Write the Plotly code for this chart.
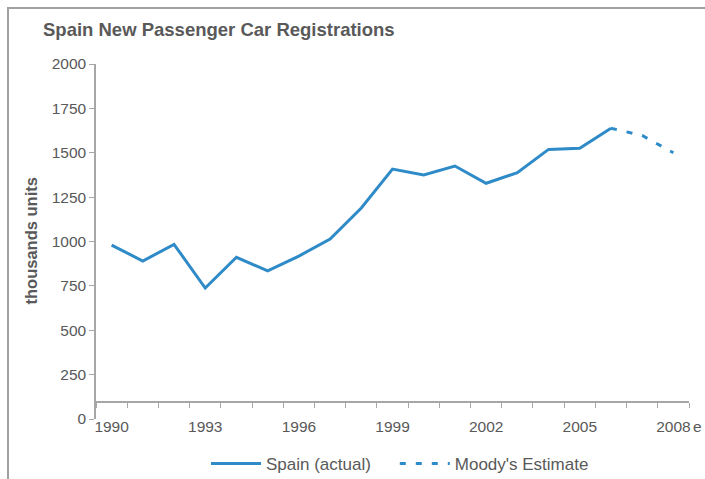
import plotly.graph_objects as go

# Spain new passenger car registrations, thousands of units
years_actual = [1990, 1991, 1992, 1993, 1994, 1995, 1996, 1997, 1998,
                1999, 2000, 2001, 2002, 2003, 2004, 2005, 2006]
spain_actual = [980, 890, 984, 738, 911, 834, 918, 1014, 1189,
                1408, 1375, 1425, 1328, 1388, 1519, 1525, 1638]

years_estimate = [2006, 2007, 2008]
moodys_estimate = [1638, 1597, 1500]

tick_years = [1990, 1993, 1996, 1999, 2002, 2005, 2008]
tick_labels = ["1990", "1993", "1996", "1999", "2002", "2005", "2008"]

blue = "rgb(46,139,200)"
grey = "#595959"
axis_grey = "#A6A6A6"
font = "Liberation Sans, Arial, sans-serif"

W, H = 705, 479
L, R, T, B = 96, 16, 64, 60
PW, PH = W - L - R, H - T - B

fig = go.Figure()
fig.add_trace(go.Scatter(x=years_actual, y=spain_actual, mode="lines",
                         name="Spain (actual)\u00a0\u00a0\u00a0\u00a0",
                         line=dict(color=blue, width=3)))
fig.add_trace(go.Scatter(x=years_estimate, y=moodys_estimate, mode="lines",
                         name="Moody's Estimate",
                         line=dict(color=blue, width=3, dash="6px,10px")))

# boundaries between the yearly categories
boundaries = [y - 0.5 for y in range(1990, 2010)]

fig.update_layout(
    width=W, height=H,
    margin=dict(l=L, r=R, t=T, b=B, autoexpand=False),
    paper_bgcolor="white", plot_bgcolor="white",
    font=dict(family=font, size=15, color=grey),
    title=dict(text="<b>Spain New Passenger Car Registrations</b>",
               xref="container", x=43 / W, xanchor="left",
               yref="container", y=1 - 30 / H, yanchor="middle",
               font=dict(size=18.5, color=grey)),
    showlegend=True,
    legend=dict(orientation="h", xref="container", x=400 / W,
                xanchor="center", yref="container", y=1 - 464 / H,
                yanchor="middle", font=dict(size=17, color=grey),
                itemwidth=50),
    xaxis=dict(range=[1989.5, 2008.5], tickvals=tick_years,
               ticktext=tick_labels, ticks="", showgrid=False,
               zeroline=False, showline=True, linecolor=axis_grey,
               linewidth=1.5, anchor="free", position=0.048,
               ticklabelstandoff=11, tickfont=dict(size=15.5),
               minor=dict(tickvals=boundaries, ticks="outside", ticklen=5,
                          tickcolor=axis_grey, showgrid=False)),
    yaxis=dict(range=[0, 2000], dtick=250, ticks="outside", ticklen=5,
               tickcolor=axis_grey, showgrid=False, zeroline=False,
               showline=True, linecolor=axis_grey, linewidth=1.5,
               tickfont=dict(size=15.5)),
)

fig.add_annotation(text="<b>thousands units</b>", textangle=-90,
                   xref="paper", yref="paper", x=(30 - L) / PW, y=0.5,
                   xanchor="center", yanchor="middle",
                   showarrow=False, font=dict(size=16.5, color=grey))
fig.add_annotation(text="e", xref="paper", yref="paper",
                   x=(691 - L) / PW, y=(T + PH - 426) / PH, xanchor="left",
                   yanchor="middle", showarrow=False,
                   font=dict(size=15.5, color=grey))

# outer chart frame
fig.add_shape(type="rect", xref="paper", yref="paper",
              x0=(8 - L) / PW, x1=1.2, y0=-0.4, y1=(T + PH - 8) / PH,
              line=dict(color="#A0A0A0", width=2))

# drop the page's default body margin so the figure fills the window
fig.write_html("out.html", config={"displayModeBar": False},
               post_script="document.body.style.margin='0';")
